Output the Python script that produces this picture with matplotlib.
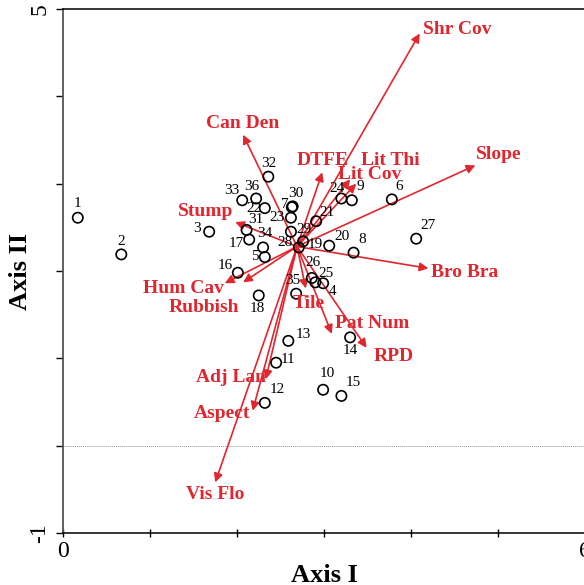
import matplotlib
matplotlib.use("Agg")
import matplotlib.pyplot as plt

# ------------------ DATA ------------------

site_ids = list(range(1, 37))
site_x = [0.17, 0.67, 1.68, 2.90, 2.32, 3.78, 2.63, 3.34, 3.32, 2.99,
          2.45, 2.32, 2.59, 3.30, 3.20, 2.01, 2.14, 2.25, 2.76, 3.06,
          2.91, 2.32, 2.62, 3.20, 2.99, 2.86, 4.06, 2.71, 2.62, 2.64,
          2.11, 2.36, 2.06, 2.30, 2.68, 2.22]
site_y = [2.61, 2.19, 2.45, 1.87, 2.16, 2.82, 2.73, 2.21, 2.81, 0.64,
          0.95, 0.49, 1.20, 1.24, 0.57, 1.98, 2.36, 1.72, 2.34, 2.29,
          2.57, 2.72, 2.61, 2.83, 1.86, 1.92, 2.37, 2.27, 2.45, 2.74,
          2.47, 3.08, 2.81, 2.27, 1.74, 2.83]

arrow_origin = (2.69, 2.28)
var_names = ["Shr Cov", "Slope", "Can Den", "DTFE", "Lit Thi", "Lit Cov",
             "Stump", "Bro Bra", "Hum Cav", "Rubbish", "Tile", "Pat Num",
             "RPD", "Adj Lan", "Aspect", "Vis Flo"]
var_x = [4.10, 4.74, 2.07, 2.98, 3.30, 3.37, 1.98, 4.20, 1.86, 2.07,
         2.79, 3.09, 3.49, 2.33, 2.18, 1.75]
var_y = [4.72, 3.21, 3.56, 3.13, 3.05, 3.00, 2.56, 2.03, 1.86, 1.87,
         1.80, 1.28, 1.12, 0.76, 0.40, -0.42]

# ------------------ LAYOUT ------------------

RED = "#e0262e"

# label offsets for site numbers, in pixels (dx, dy)
site_offsets = {
    1: (0, 14), 2: (0, 13), 3: (-12, 3), 4: (17, -9), 5: (-10, 1),
    6: (7, 13), 7: (-7, 3), 8: (9, 13), 9: (8, 14), 10: (4, 16),
    11: (12, 3), 12: (12, 13), 13: (15, 6), 14: (0, -13), 15: (12, 13),
    16: (-13, 7), 17: (-13, -4), 18: (-1, -13), 19: (12, -3), 20: (13, 9),
    21: (11, 9), 22: (-11, 0), 23: (-14, 0), 24: (-4, 10), 25: (3, 10),
    26: (1, 15), 27: (12, 13), 28: (-14, 5), 29: (13, 2), 30: (3, 13),
    31: (9, 10), 32: (0, 13), 33: (-10, 10), 34: (2, 14), 35: (-3, 13),
    36: (-4, 12),
}

# variable label anchor (x, y, ha) in data units
var_labels = {
    "Shr Cov": (4.14, 4.76, "left"), "Slope": (4.75, 3.33, "left"),
    "Can Den": (2.07, 3.69, "center"), "DTFE": (2.98, 3.27, "center"),
    "Lit Thi": (3.76, 3.27, "center"), "Lit Cov": (3.53, 3.10, "center"),
    "Stump": (1.64, 2.68, "center"), "Bro Bra": (4.23, 1.98, "left"),
    "Hum Cav": (1.39, 1.80, "center"), "Rubbish": (1.62, 1.58, "center"),
    "Tile": (2.82, 1.63, "center"), "Pat Num": (3.55, 1.40, "center"),
    "RPD": (3.80, 1.02, "center"), "Adj Lan": (1.93, 0.78, "center"),
    "Aspect": (1.83, 0.37, "center"), "Vis Flo": (1.75, -0.56, "center"),
}

plt.rcParams["font.family"] = ["Liberation Serif", "DejaVu Serif"]

fig = plt.figure(figsize=(5.84, 5.85), dpi=100)
ax = fig.add_axes([63 / 584, 52 / 585, 522 / 584, 524 / 585])

ax.set_xlim(0, 6)
ax.set_ylim(-1, 5)

ax.axhline(0, color="#999999", lw=0.7, ls=(0, (1, 1)), zorder=0)

# arrows
for name, vx, vy in zip(var_names, var_x, var_y):
    ax.annotate("", xy=(vx, vy), xytext=arrow_origin,
                arrowprops=dict(arrowstyle="-|>", color=RED, lw=1.2,
                                mutation_scale=13, shrinkA=0, shrinkB=0),
                zorder=2)
    lx, ly, ha = var_labels[name]
    ax.text(lx, ly, name, color=RED, fontsize=14, fontweight="bold",
            ha=ha, va="center", zorder=4)

# sites
ax.scatter(site_x, site_y, s=55, facecolors="none", edgecolors="black",
           linewidths=1.2, zorder=3)
for sid, sx, sy in zip(site_ids, site_x, site_y):
    dx, dy = site_offsets[sid]
    ax.annotate(str(sid), (sx, sy), xytext=(dx, dy), textcoords="offset pixels",
                ha="center", va="center", fontsize=11, color="black",
                zorder=4)

# axes styling
ax.spines["right"].set_visible(False)
ax.spines["left"].set_color("#555555")
ax.spines["left"].set_linewidth(1.3)
ax.spines["bottom"].set_linewidth(1.1)
ax.spines["top"].set_linewidth(1.1)

ax.set_xticks(range(0, 7))
ax.set_xticklabels(["0", "", "", "", "", "", "6"], fontsize=17)
ax.set_yticks(range(-1, 6))
ax.set_yticklabels(["-1", "", "", "", "", "", "5"], fontsize=17, rotation=90,
                   va="center")
ax.tick_params(axis="x", direction="inout", length=6, width=1, pad=3)
ax.tick_params(axis="y", direction="out", length=5, width=1, pad=4)

ax.set_xlabel("Axis I", fontsize=19, fontweight="bold", labelpad=1)
ax.set_ylabel("Axis II", fontsize=19, fontweight="bold", labelpad=-2)

fig.savefig("out.png", dpi=100)
